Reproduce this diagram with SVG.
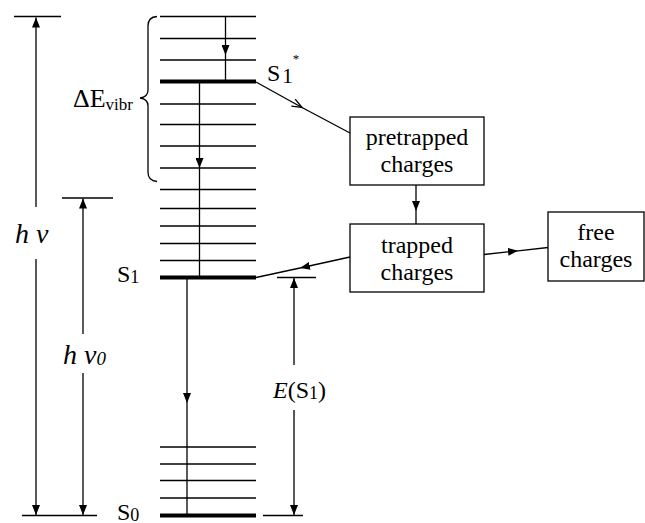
<svg xmlns="http://www.w3.org/2000/svg" width="645" height="523" viewBox="0 0 645 523" font-family="'Liberation Serif', 'DejaVu Serif', serif">
<style>
.ln{stroke:#000;stroke-width:1.3;fill:none}
.lv{stroke:#000;stroke-width:1.3}
.thick{stroke:#000;stroke-width:4}
.box{fill:#fff;stroke:#000;stroke-width:1.3}
text{fill:#000}
.t{font-size:24px}
.c{text-anchor:middle}
.it{font-style:italic}
</style>
<defs>
<marker id="ah" viewBox="0 0 10 8" refX="10" refY="4" markerWidth="10" markerHeight="8" markerUnits="userSpaceOnUse" orient="auto-start-reverse"><path d="M0,0 L10,4 L0,8 z" fill="#000"/></marker>
<marker id="oh" viewBox="0 0 12 10" refX="11" refY="5" markerWidth="12" markerHeight="10" markerUnits="userSpaceOnUse" orient="auto"><path d="M1,1 L11,5 L1,9" fill="none" stroke="#000" stroke-width="1.3"/></marker>
</defs>

<g id="levels-S1">
<line class="lv" x1="160" y1="16.5" x2="256" y2="16.5"/>
<line class="lv" x1="160" y1="38.5" x2="256" y2="38.5"/>
<line class="lv" x1="160" y1="60" x2="256" y2="60"/>
<line class="thick" x1="160" y1="81.5" x2="256" y2="81.5"/>
<line class="lv" x1="160" y1="104" x2="256" y2="104"/>
<line class="lv" x1="160" y1="124.5" x2="256" y2="124.5"/>
<line class="lv" x1="160" y1="146" x2="256" y2="146"/>
<line class="lv" x1="160" y1="168" x2="256" y2="168"/>
<line class="lv" x1="160" y1="189.5" x2="256" y2="189.5"/>
<line class="lv" x1="160" y1="208.5" x2="256" y2="208.5"/>
<line class="lv" x1="160" y1="226" x2="256" y2="226"/>
<line class="lv" x1="160" y1="243.5" x2="256" y2="243.5"/>
<line class="lv" x1="160" y1="260.5" x2="256" y2="260.5"/>
<line class="thick" x1="160" y1="277.5" x2="256" y2="277.5"/>
</g>
<g id="levels-S0">
<line class="lv" x1="160" y1="447" x2="256" y2="447"/>
<line class="lv" x1="160" y1="464" x2="256" y2="464"/>
<line class="lv" x1="160" y1="480.5" x2="256" y2="480.5"/>
<line class="lv" x1="160" y1="498" x2="256" y2="498"/>
<line class="thick" x1="160" y1="515.5" x2="256" y2="515.5"/>
</g>

<g id="brace">
<path class="ln" d="M157,16.5 Q148,17 148,26 L148,90 Q148,97 140,98 Q148,99 148,106 L148,172 Q148,181 157,181.5"/>
<text x="73" y="107" font-size="26">ΔE<tspan font-size="17" dy="3">vibr</tspan></text>
</g>

<g id="labels">
<text x="267" y="81" class="t">S<tspan dx="2" font-size="21" dy="2">1</tspan><tspan font-size="13" dy="-20">*</tspan></text>
<text x="117" y="282" class="t">S<tspan font-size="18" dy="1">1</tspan></text>
<text x="117" y="520" class="t">S<tspan font-size="18" dy="1">0</tspan></text>
<text x="15" y="243" class="it" font-size="28">h ν</text>
<text x="63" y="364" class="it" font-size="28">h ν<tspan font-size="19" dy="1">0</tspan></text>
<text x="273" y="398" class="t"><tspan class="it">E</tspan>(S<tspan font-size="18" dy="1">1</tspan><tspan dy="-1">)</tspan></text>
</g>

<g id="pretrapped">
<rect class="box" x="350" y="117" width="134" height="68"/>
<text x="417" y="145" class="t c">pretrapped</text>
<text x="417" y="172" class="t c">charges</text>
</g>
<g id="trapped">
<rect class="box" x="350" y="224" width="134" height="68"/>
<text x="417" y="253" class="t c">trapped</text>
<text x="417" y="280" class="t c">charges</text>
</g>
<g id="free">
<rect class="box" x="548" y="212" width="96" height="69"/>
<text x="596" y="240" class="t c">free</text>
<text x="596" y="267" class="t c">charges</text>
</g>

<g id="connectors">
<line class="lv" x1="14" y1="16.5" x2="61" y2="16.5"/>
<line class="lv" x1="62" y1="198" x2="113" y2="198"/>
<line class="lv" x1="22" y1="515.5" x2="97" y2="515.5"/>
<line class="lv" x1="277" y1="277.5" x2="316" y2="277.5"/>
<line class="lv" x1="263" y1="515.5" x2="303" y2="515.5"/>
<line class="ln" x1="36" y1="207" x2="36" y2="17.5" marker-end="url(#ah)"/>
<line class="ln" x1="36" y1="259" x2="36" y2="515" marker-end="url(#ah)"/>
<line class="ln" x1="83" y1="334" x2="83" y2="198.5" marker-end="url(#ah)"/>
<line class="ln" x1="83" y1="373" x2="83" y2="515" marker-end="url(#ah)"/>
<line class="ln" x1="294" y1="365" x2="294" y2="278" marker-end="url(#ah)"/>
<line class="ln" x1="294" y1="410" x2="294" y2="515" marker-end="url(#ah)"/>
<line class="ln" x1="225.5" y1="16.5" x2="225.5" y2="55" marker-end="url(#ah)"/>
<line class="ln" x1="225.5" y1="55" x2="225.5" y2="80"/>
<line class="ln" x1="199.5" y1="83" x2="199.5" y2="168" marker-end="url(#ah)"/>
<line class="ln" x1="199.5" y1="168" x2="199.5" y2="276"/>
<line class="ln" x1="187" y1="279" x2="187" y2="403" marker-end="url(#ah)"/>
<line class="ln" x1="187" y1="403" x2="187" y2="514"/>
<line class="ln" x1="256" y1="82" x2="302" y2="107.5" marker-end="url(#oh)"/>
<line class="ln" x1="302" y1="107.5" x2="350" y2="133"/>
<line class="ln" x1="416" y1="185" x2="416" y2="211" marker-end="url(#ah)"/>
<line class="ln" x1="416" y1="211" x2="416" y2="224"/>
<line class="ln" x1="350" y1="257" x2="300" y2="268" marker-end="url(#ah)"/>
<line class="ln" x1="300" y1="268" x2="256" y2="277.5"/>
<line class="ln" x1="484" y1="254.5" x2="518" y2="250.8" marker-end="url(#ah)"/>
<line class="ln" x1="518" y1="250.8" x2="548" y2="247.5"/>
</g>
</svg>
